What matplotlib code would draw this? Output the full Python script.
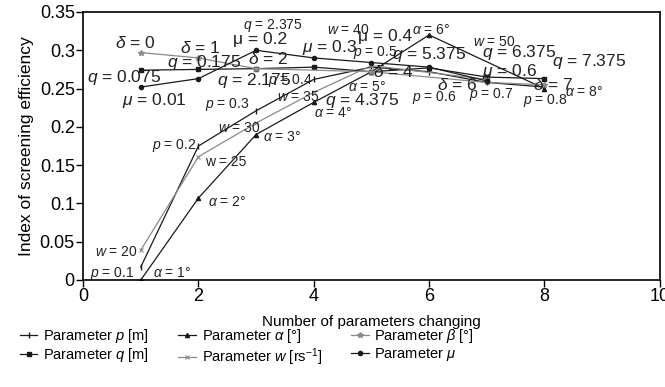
import matplotlib
matplotlib.use('Agg')
import matplotlib.pyplot as plt

plt.rcParams['font.family'] = ['Liberation Sans', 'DejaVu Sans']
plt.rcParams['mathtext.fontset'] = 'custom'
plt.rcParams['mathtext.rm'] = 'Liberation Sans'
plt.rcParams['mathtext.it'] = 'Liberation Sans:italic'
plt.rcParams['mathtext.bf'] = 'Liberation Sans:bold'

# values (x = number of parameters changing)
p_x = [1, 2, 3, 4, 5, 6, 7, 8]
p_y = [0.017, 0.175, 0.221, 0.262, 0.278, 0.272, 0.258, 0.252]
q_x = [1, 2, 3, 4, 5, 6, 7, 8]
q_y = [0.274, 0.275, 0.276, 0.278, 0.272, 0.277, 0.265, 0.263]
alpha_x = [1, 2, 3, 4, 5, 6, 8]
alpha_y = [0.0, 0.107, 0.19, 0.232, 0.272, 0.32, 0.25]
w_x = [1, 2, 3, 4, 5, 7]
w_y = [0.039, 0.161, 0.205, 0.245, 0.28, 0.262]
beta_x = [1, 2, 3, 5, 7, 8]
beta_y = [0.297, 0.29, 0.276, 0.272, 0.258, 0.255]
mu_x = [1, 2, 3, 4, 5, 6, 7]
mu_y = [0.252, 0.263, 0.300, 0.29, 0.284, 0.278, 0.26]

legend_labels = ['Parameter $p$ [m]', 'Parameter $q$ [m]', r'Parameter $\alpha$ [°]',
                 'Parameter $w$ [rs$^{-1}$]', r'Parameter $\beta$ [°]', r'Parameter $\mu$']

# point labels: text, x, y, big?
point_labels = [
    (r'$\delta$ = 0', 0.55, 0.310, True),
    (r'$\delta$ = 1', 1.68, 0.303, True),
    (r'$\delta$ = 2', 2.86, 0.289, True),
    (r'$\delta$ = 4', 5.03, 0.272, True),
    (r'$\delta$ = 6', 6.13, 0.255, True),
    (r'$\delta$ = 7', 7.80, 0.255, True),
    ('$q$ = 0.075', 0.07, 0.264, True),
    ('$q$ = 0.175', 1.46, 0.284, True),
    ('$q$ = 2.175', 2.32, 0.261, True),
    ('$q$ = 2.375', 2.77, 0.333, False),
    ('$q$ = 4.375', 4.20, 0.235, True),
    ('$q$ = 5.375', 5.36, 0.294, True),
    ('$q$ = 6.375', 6.92, 0.297, True),
    ('$q$ = 7.375', 8.13, 0.285, True),
    (r'$\mu$ = 0.01', 0.68, 0.235, True),
    ('μ = 0.2', 2.60, 0.314, True),
    (r'$\mu$ = 0.3', 3.80, 0.303, True),
    ('μ = 0.4', 4.77, 0.318, True),
    (r'$\mu$ = 0.6', 6.92, 0.272, True),
    ('$p$ = 0.1', 0.12, 0.009, False),
    ('$p$ = 0.2', 1.20, 0.176, False),
    ('$p$ = 0.3', 2.11, 0.229, False),
    ('$p$ = 0.4', 3.20, 0.260, False),
    ('$p$ = 0.5', 4.68, 0.297, False),
    ('$p$ = 0.6', 5.70, 0.238, False),
    ('$p$ = 0.7', 6.70, 0.242, False),
    ('$p$ = 0.8', 7.63, 0.235, False),
    (r'$\alpha$ = 1°', 1.21, 0.009, False),
    (r'$\alpha$ = 2°', 2.17, 0.102, False),
    (r'$\alpha$ = 3°', 3.12, 0.187, False),
    (r'$\alpha$ = 4°', 4.00, 0.218, False),
    (r'$\alpha$ = 5°', 4.60, 0.252, False),
    (r'$\alpha$ = 6°', 5.70, 0.327, False),
    (r'$\alpha$ = 8°', 8.35, 0.246, False),
    ('$w$ = 20', 0.21, 0.037, False),
    ('w = 25', 2.11, 0.154, False),
    ('$w$ = 30', 2.34, 0.199, False),
    ('$w$ = 35', 3.36, 0.239, False),
    ('$w$ = 40', 4.23, 0.327, False),
    ('$w$ = 50', 6.76, 0.311, False),
]

fig = plt.figure(figsize=(6.65, 3.87), dpi=100)
ax = fig.add_axes([0.125, 0.2765, 0.867, 0.6925])

black = '#1a1a1a'
grey = '#8a8a8a'
h_p, = ax.plot(p_x, p_y, color=black, lw=0.9, marker='|', ms=4, mew=1)
h_q, = ax.plot(q_x, q_y, color=black, lw=0.9, marker='s', ms=3)
h_a, = ax.plot(alpha_x, alpha_y, color=black, lw=0.9, marker='^', ms=3)
h_w, = ax.plot(w_x, w_y, color=grey, lw=0.9, marker='x', ms=3.5, mew=0.8)
h_b, = ax.plot(beta_x, beta_y, color=grey, lw=0.9, marker='*', ms=4)
h_m, = ax.plot(mu_x, mu_y, color=black, lw=0.9, marker='o', ms=3)

for txt, x, y, big in point_labels:
    ax.text(x, y, txt, fontsize=12.5 if big else 10, ha='left', va='center', color='#222222')

ax.set_xlim(0, 10)
ax.set_ylim(0, 0.35)
ax.set_xticks([0, 2, 4, 6, 8, 10])
ax.set_yticks([0, 0.05, 0.1, 0.15, 0.2, 0.25, 0.3, 0.35])
ax.set_yticklabels(['0', '0.05', '0.1', '0.15', '0.2', '0.25', '0.3', '0.35'])
ax.tick_params(labelsize=13, length=5, width=1, pad=1)
for s in ax.spines.values():
    s.set_linewidth(1.2)
ax.set_xlabel('Number of parameters changing', fontsize=11, labelpad=7)
ax.set_ylabel('Index of screening efficiency', fontsize=12.5, labelpad=4)

fig.legend([h_p, h_q, h_a, h_w, h_b, h_m], legend_labels, ncol=3, frameon=False,
           loc='upper left', bbox_to_anchor=(0.03, 0.155), fontsize=10.5,
           handlelength=1.2, handletextpad=0.4, columnspacing=2.0,
           labelspacing=0.1, borderaxespad=0, borderpad=0)

fig.savefig('out.png', dpi=100)
